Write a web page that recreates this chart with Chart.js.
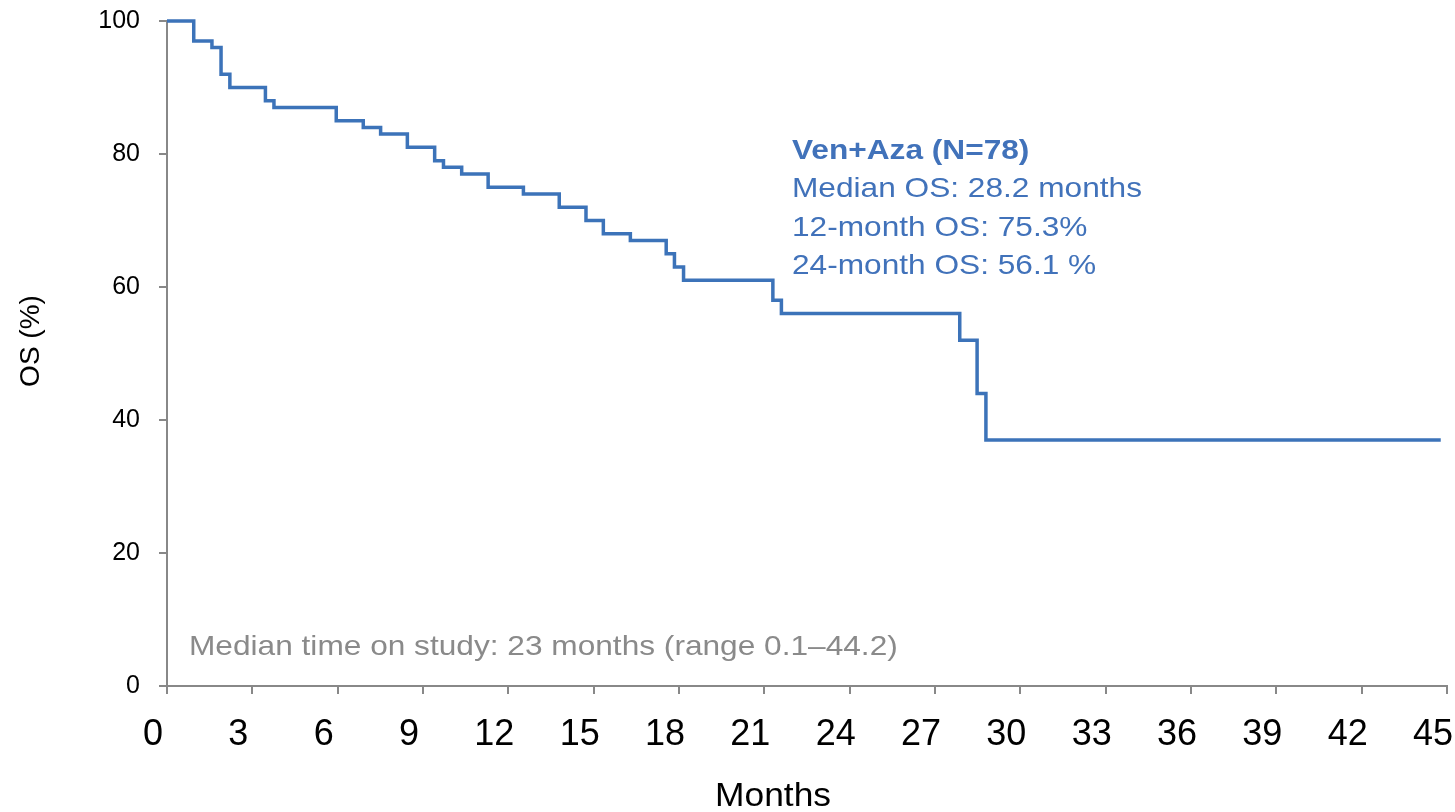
<!DOCTYPE html>
<html>
<head>
<meta charset="utf-8">
<script src="https://cdn.jsdelivr.net/npm/chart.js@4"></script>
<style>
  body { margin: 0; background: #fff; }
  canvas { display: block; }
</style>
</head>
<body>
<canvas id="km_chart" width="1455" height="812"></canvas>
<script>
// Kaplan-Meier step points (months, OS %)
const months = [0, 0.94, 1.58, 1.90, 2.21, 3.46, 3.76, 5.95, 6.90, 7.51, 8.45, 9.41, 9.72, 10.36, 11.29, 12.53, 13.79, 14.73, 15.34, 16.29, 17.55, 17.84, 18.16, 21.30, 21.60, 27.87, 28.48, 28.79, 44.78]
const os_pct = [100, 97, 96, 92, 90, 88, 87, 85, 84, 83, 81, 79, 78, 77, 75, 74, 72, 70, 68, 67, 65, 63, 61, 58, 56, 52, 44, 37, 37]

const x_ticks = [0, 45, 3]   // min, max, step
const y_ticks = [0, 100, 20]

const x_title = 'Months'
const y_title = 'OS (%)'
const info_lines = ['Ven+Aza (N=78)', 'Median OS: 28.2 months', '12-month OS: 75.3%', '24-month OS: 56.1 %']
const footnote = 'Median time on study: 23 months (range 0.1\u201344.2)'

const font = 'Liberation Sans, Arial, sans-serif'
const axis_grey = '#888888'
const line_blue = '#3c73b9'
const text_blue = '#4172ba'

let points = months.map((m, i) => ({ x: m, y: os_pct[i] }))

// text looks a bit wide in the original, so stretch it a little
function drawWide(ctx, txt, x, y, style, color, sx, align) {
  ctx.save()
  ctx.font = style
  ctx.fillStyle = color
  ctx.textBaseline = 'alphabetic'
  ctx.textAlign = align || 'left'
  ctx.translate(x, y)
  ctx.scale(sx, 1)
  ctx.fillText(txt, 0, 0)
  ctx.restore()
}

const notes = {
  id: 'notes',
  afterDraw(chart) {
    let ctx = chart.ctx
    drawWide(ctx, info_lines[0], 792, 159, 'bold 28px ' + font, text_blue, 1.13)
    drawWide(ctx, info_lines[1], 792, 197, '28px ' + font, text_blue, 1.13)
    drawWide(ctx, info_lines[2], 792, 236, '28px ' + font, text_blue, 1.13)
    drawWide(ctx, info_lines[3], 792, 274, '28px ' + font, text_blue, 1.13)
    drawWide(ctx, footnote, 189, 655, '28px ' + font, '#8a8a8a', 1.13)

    // axis titles (sit a bit off-centre in the original)
    drawWide(ctx, x_title, 773, 806, '34px ' + font, '#000', 1.04, 'center')
    ctx.save()
    ctx.translate(39, 341)
    ctx.rotate(-Math.PI / 2)
    ctx.font = '28px ' + font
    ctx.fillStyle = '#000'
    ctx.textAlign = 'center'
    ctx.textBaseline = 'alphabetic'
    ctx.fillText(y_title, 0, 0)
    ctx.restore()
  }
}

new Chart(document.getElementById('km_chart'), {
  type: 'line',
  data: {
    datasets: [{
      label: 'Ven+Aza',
      data: points,
      stepped: true,
      borderColor: line_blue,
      borderWidth: 3.5,
      pointRadius: 0,
      fill: false,
      clip: false,
    }]
  },
  options: {
    responsive: false,
    animation: false,
    layout: { padding: { top: 21, right: 8, left: 0, bottom: 0 } },
    plugins: {
      legend: { display: false },
      tooltip: { enabled: false },
    },
    scales: {
      x: {
        type: 'linear',
        min: x_ticks[0],
        max: x_ticks[1],
        ticks: {
          stepSize: x_ticks[2],
          color: '#000',
          font: { family: font, size: 36 },
          padding: 19,
          labelOffset: -14,
          maxRotation: 0,
          autoSkip: false,
        },
        grid: { drawOnChartArea: false, tickLength: 8, color: axis_grey, lineWidth: 2 },
        border: { display: true, color: axis_grey, width: 2 },
        afterFit(axis) {
          axis.height = 126
          axis.paddingLeft = 0
          axis.paddingRight = 0
        },
      },
      y: {
        min: y_ticks[0],
        max: y_ticks[1],
        ticks: {
          stepSize: y_ticks[2],
          color: '#000',
          font: { family: font, size: 25 },
          padding: 19,
        },
        grid: { drawOnChartArea: false, tickLength: 8, color: axis_grey, lineWidth: 2 },
        border: { display: true, color: axis_grey, width: 2 },
        afterFit(axis) {
          axis.width = 167
          axis.paddingTop = 0
          axis.paddingBottom = 0
        },
      },
    },
  },
  plugins: [notes],
})
</script>
</body>
</html>
